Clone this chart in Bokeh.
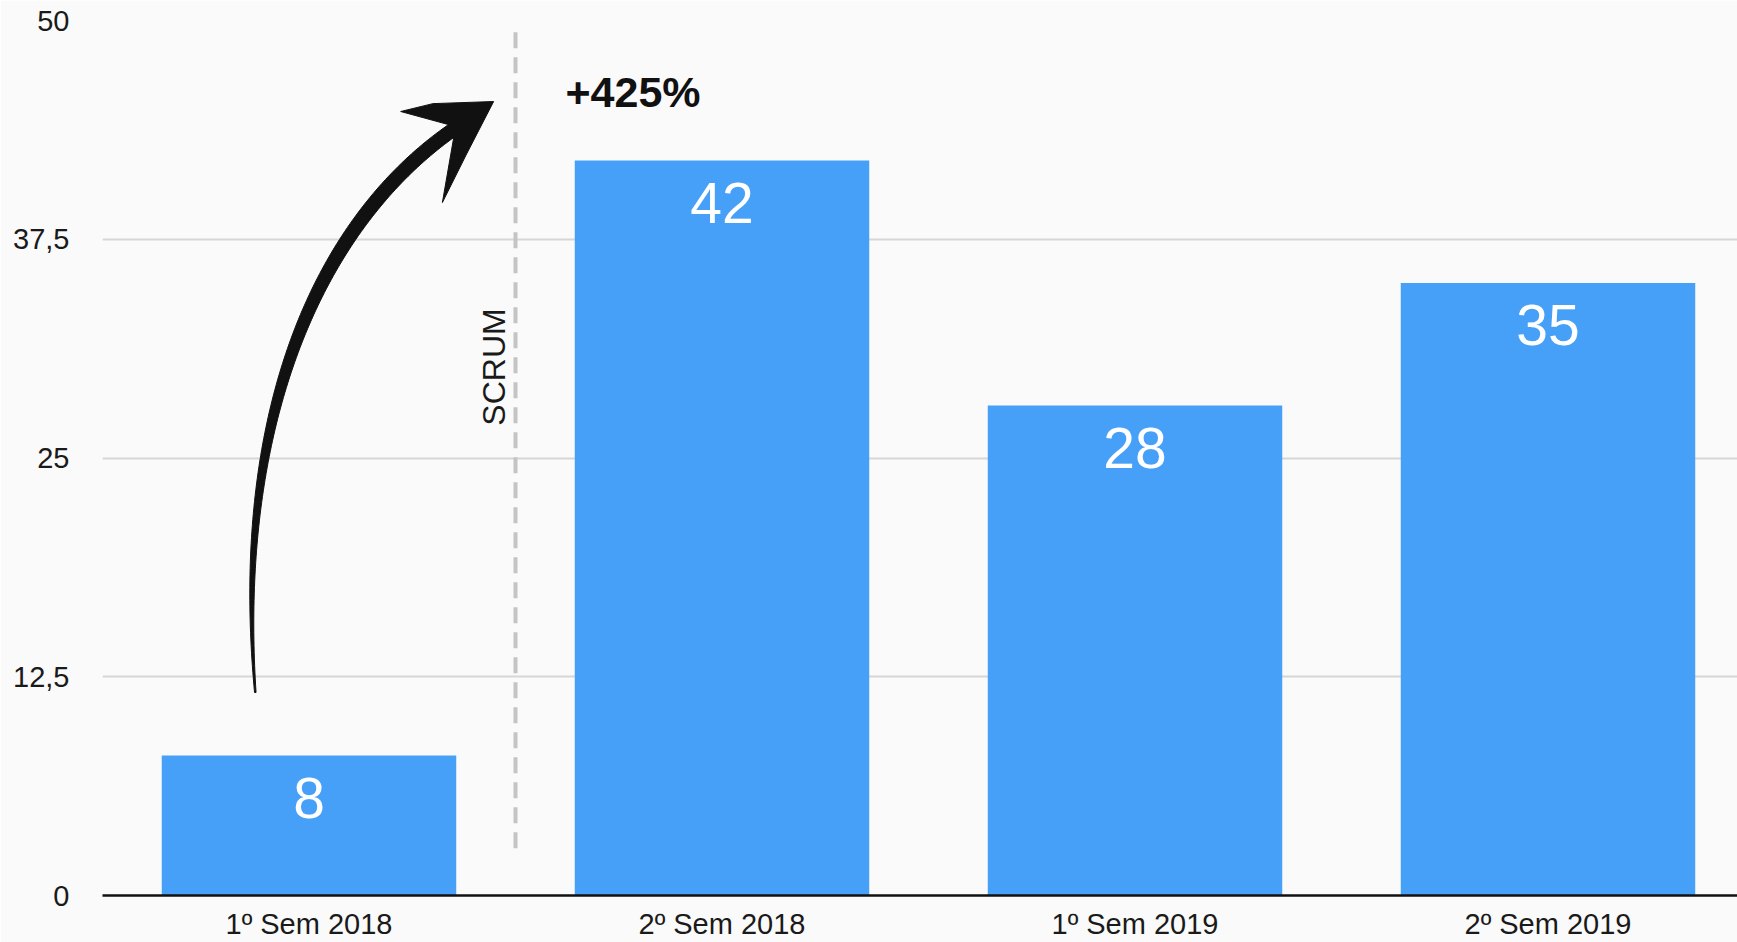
import numpy as np
from bokeh.plotting import figure
from bokeh.models import Range1d, FixedTicker, ColumnDataSource
from bokeh.core.properties import value
from bokeh.embed import file_html
from bokeh.resources import INLINE

# ---- data ----
categories = ["1º Sem 2018", "2º Sem 2018", "1º Sem 2019", "2º Sem 2019"]
values = [8, 42, 28, 35]
y_ticks = [0, 12.5, 25, 37.5, 50]
y_tick_labels = ["0", "12,5", "25", "37,5", "50"]
growth_label = "+425%"
divider_label = "SCRUM"

# ---- layout ----
W, H = 1737, 942
BL, BR, BT, BB = 102, 0, 20, 47
FRAME_W = W - BL - BR
FRAME_H = H - BT - BB
PX_PER_CAT = 413.0
XMAX = FRAME_W / PX_PER_CAT
YMAX = 50
SX = PX_PER_CAT
SY = FRAME_H / YMAX

FONT = "Liberation Sans"
BAR_COLOR = "#46a0f8"
BG = "#fafafa"

xs = [i + 0.5 for i in range(len(categories))]
src = ColumnDataSource(dict(x=xs, top=values, label=[str(v) for v in values]))

p = figure(width=W, height=H, output_backend="svg", toolbar_location=None,
           x_range=Range1d(0, XMAX), y_range=Range1d(0, YMAX),
           min_border_left=BL, min_border_right=BR, min_border_top=BT,
           min_border_bottom=BB, background_fill_color=BG,
           border_fill_color=BG, outline_line_color=None)

p.vbar(x="x", top="top", bottom=0, width=0.713, source=src,
       fill_color=BAR_COLOR, line_color=None)

p.text(x="x", y="top", text="label", source=src, text_color="white",
       text_font=value(FONT), text_font_size="57px", text_align="center",
       text_baseline="middle", y_offset=42)

# ---- dashed divider ----
p.segment(x0=[1.0], y0=[2.7], x1=[1.0], y1=[49.6], line_color="#c4c4c4",
          line_width=4, line_dash="16 9")

p.text(x=[0.949], y=[30.2], text=[divider_label], angle=np.pi / 2,
       text_font=value(FONT), text_font_size="32px", text_color="#1a1a1a",
       text_align="center", text_baseline="middle")

p.text(x=[1.121], y=[45.9], text=[growth_label], text_font=value(FONT),
       text_font_size="43px", text_font_style="bold", text_color="#111111",
       text_align="left", text_baseline="middle")

# ---- curved arrow ----
ctrl = np.array([[0.370, 11.60], [0.318, 27.0], [0.515, 38.6], [0.870, 44.10]])
cp = ctrl * np.array([SX, SY])
t = np.linspace(0, 1, 120)[:, None]
B = ((1 - t) ** 3) * cp[0] + 3 * ((1 - t) ** 2) * t * cp[1] + 3 * (1 - t) * t ** 2 * cp[2] + t ** 3 * cp[3]
dB = 3 * ((1 - t) ** 2) * (cp[1] - cp[0]) + 6 * (1 - t) * t * (cp[2] - cp[1]) + 3 * t ** 2 * (cp[3] - cp[2])
n = np.stack([-dB[:, 1], dB[:, 0]], axis=1)
n /= np.linalg.norm(n, axis=1)[:, None]
w = (1.5 + 12.5 * np.sin(np.pi * 0.6 * t[:, 0]))[:, None]
left = B + n * w / 2
right = B - n * w / 2
poly = np.vstack([left, right[::-1]]) / np.array([SX, SY])
p.patch(poly[:, 0], poly[:, 1], fill_color="#111111", line_color="#111111", line_width=1)

head = np.array([[0.947, 45.37], [0.80, 45.25], [0.722, 44.80], [0.855, 43.94],
                 [0.823, 39.60], [0.88, 42.3], [0.947, 45.37]])
p.patch(head[:, 0], head[:, 1], fill_color="#111111", line_color="#111111", line_width=1)

# ---- axes ----
p.xgrid.grid_line_color = None
p.ygrid.grid_line_color = "#d6d6d6"
p.ygrid.grid_line_width = 2
p.ygrid.ticker = FixedTicker(ticks=y_ticks)

p.yaxis.ticker = FixedTicker(ticks=y_ticks)
p.yaxis.major_label_overrides = {t_: l for t_, l in zip(y_ticks, y_tick_labels)}
p.yaxis.axis_line_color = None
p.yaxis.major_tick_line_color = None
p.yaxis.minor_tick_line_color = None
p.yaxis.major_tick_out = 0
p.yaxis.major_label_standoff = 33
p.yaxis.major_label_text_font = FONT
p.yaxis.major_label_text_font_size = "29px"
p.yaxis.major_label_text_color = "#1a1a1a"

p.xaxis.ticker = FixedTicker(ticks=xs)
p.xaxis.major_label_overrides = {x_: c for x_, c in zip(xs, categories)}
p.xaxis.axis_line_color = "#111111"
p.xaxis.axis_line_width = 2.5
p.xaxis.major_tick_line_color = None
p.xaxis.minor_tick_line_color = None
p.xaxis.major_tick_out = 0
p.xaxis.major_label_standoff = 12
p.xaxis.major_label_text_font = FONT
p.xaxis.major_label_text_font_size = "29px"
p.xaxis.major_label_text_color = "#1a1a1a"

open("out.html", "w").write(file_html(p, INLINE))
